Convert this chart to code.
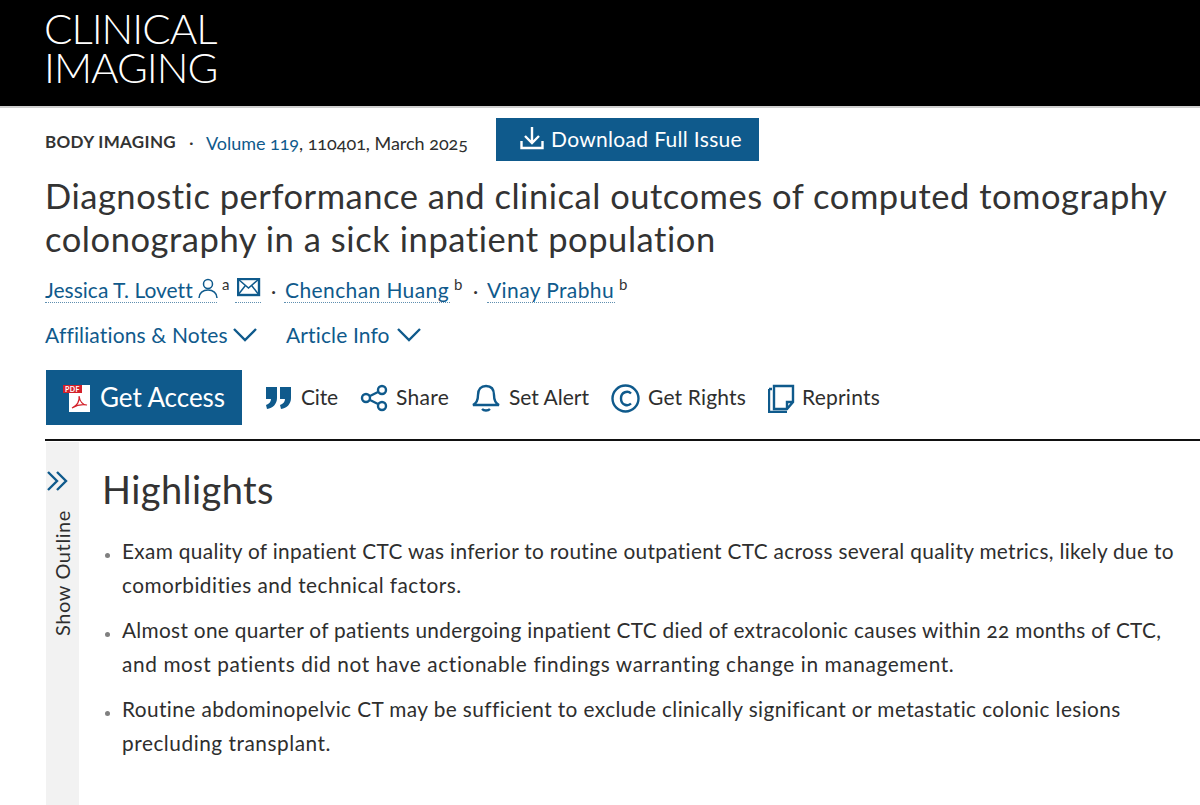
<!DOCTYPE html>
<html>
<head>
<meta charset="utf-8">
<title>Clinical Imaging</title>
<script src="https://cdn.jsdelivr.net/npm/chart.js@4"></script>
<style>
html, body { margin: 0; padding: 0; background: #fff; }
body { position: relative; width: 1200px; height: 805px; overflow: hidden; font-family: Lato, sans-serif; color: #2e2e2e; }
.box { position: absolute; }
.t { position: absolute; white-space: nowrap; line-height: 0; font-feature-settings: "onum"; }
.logo { position: absolute; left: 44px; top: 9px; white-space: pre; font-size: 42px; line-height: 39px; font-weight: 300; color: #fff; letter-spacing: -1px; }
svg { position: absolute; fill: none; stroke: #0f5a8c; stroke-width: 2.4; }
</style>
</head>
<body>
<script>
// page text, the reference has no plotted values at all
const logoLines = ['CLINICAL', 'IMAGING'];
const titleLines = ['Diagnostic performance and clinical outcomes of computed tomography', 'colonography in a sick inpatient population'];
const authors = ['Jessica T. Lovett', 'Chenchan Huang', 'Vinay Prabhu'];
const actions = ['Cite', 'Share', 'Set Alert', 'Get Rights', 'Reprints'];
const highlightLines = [
    'Exam quality of inpatient CTC was inferior to routine outpatient CTC across several quality metrics, likely due to',
    'comorbidities and technical factors.',
    'Almost one quarter of patients undergoing inpatient CTC died of extracolonic causes within 22 months of CTC,',
    'and most patients did not have actionable findings warranting change in management.',
    'Routine abdominopelvic CT may be sufficient to exclude clinically significant or metastatic colonic lesions',
    'precluding transplant.'
];

const BLUE = '#0f5a8c';

function box(x, y, w, h, color) {
    const el = document.createElement('div');
    el.className = 'box';
    el.style.cssText = `left:${x}px;top:${y}px;width:${w}px;height:${h}px;background:${color}`;
    document.body.appendChild(el);
    return el;
}

// x = left edge, y = vertical centre, width = spacing is adjusted to land on this width
function text(str, x, y, size, width, color, weight) {
    const el = document.createElement('span');
    el.className = 't';
    el.textContent = str;
    el.style.cssText = `left:${x}px;top:${y}px;font-size:${size}px;color:${color || '#2e2e2e'};font-weight:${weight || 400}`;
    document.body.appendChild(el);
    if (width) {
        const extra = (width - el.getBoundingClientRect().width) / str.length;
        el.style.letterSpacing = extra.toFixed(3) + 'px';
    }
    return el;
}

function icon(x, y, w, h, inner) {
    document.body.insertAdjacentHTML('beforeend',
        `<svg style="left:${x}px;top:${y}px" width="${w}" height="${h}" viewBox="0 0 ${w} ${h}">${inner}</svg>`);
}

function dotted(x, w) {
    box(x, 302, w, 0, 'none').style.borderTop = '1px dotted #5f8fb0';
}

// header
box(0, 0, 1200, 106, '#000');
box(0, 106, 1200, 2, '#cfcfcf');
const logo = document.createElement('div');
logo.className = 'logo';
logo.textContent = logoLines.join('\n');
document.body.appendChild(logo);

// issue row
text('BODY IMAGING', 45, 142, 17, 131, '#333', 700);
text('·', 189, 142, 18, 0, '#333');
text('Volume 119', 206, 143, 18, 93, BLUE);
text(', 110401, March 2025', 299, 143, 18, 169);
box(496, 118, 263, 43, BLUE);
icon(520, 126, 24, 24, '<path d="M12 1v15M5 10l7 7 7-7M1.500 15v7h21v-7" stroke="#fff"/>');
text('Download Full Issue', 551, 139, 21, 191, '#fff');

// title
text(titleLines[0], 45, 196, 34.5, 1123, '#333');
text(titleLines[1], 45, 239, 34.5, 672, '#333');

// authors
text(authors[0], 45, 290, 21, 147, BLUE);
icon(198, 278, 20, 22, '<circle cx="10" cy="6" r="4.500" stroke-width="1.500"/><path d="M1 20c0-5 4-8 9-8s9 3 9 8" stroke-width="1.500"/>');
text('a', 222, 284, 15, 0, '#333');
icon(237, 278, 24, 19, '<rect x="1" y="1" width="21" height="16"/><path d="M1 1l10.500 9L22 1M1 17l7-9M22 17l-7-9" stroke-width="1.500"/>');
text('·', 271, 290, 20, 0, '#333');
text(authors[1], 285, 290, 21, 164, BLUE);
text('b', 454, 284, 15, 0, '#333');
text('·', 473, 290, 20, 0, '#333');
text(authors[2], 487, 290, 21, 127, BLUE);
text('b', 619, 284, 15, 0, '#333');
dotted(45, 172);
dotted(235, 26);
dotted(284, 166);
dotted(487, 128);

// affiliations row
text('Affiliations & Notes', 45, 335, 21, 182, BLUE);
icon(233, 327, 24, 15, '<path d="M1 2l11 11L23 2"/>');
text('Article Info', 286, 335, 21, 104, BLUE);
icon(397, 327, 24, 15, '<path d="M1 2l11 11L23 2"/>');

// access button and action links
box(46, 370, 196, 55, BLUE);
box(69, 385, 21, 27, '#fff');
box(63, 385, 19, 8, '#d3202a');
text('PDF', 65, 389, 7, 15, '#fff', 700);
icon(70, 394, 19, 16, '<path d="M2 14c5-2 8-7 7-12 1 6 4 9 8 9-5-1-10 0-15 3z" stroke="#d3202a" stroke-width="1.200"/>');
text('Get Access', 100, 397, 26, 125, '#fff');

icon(265, 386, 27, 25, '<path d="M1 1h11v11c0 6-4 10-10 11l-1-4c3-1 5-3 5-6H1zM15 1h11v11c0 6-4 10-10 11l-1-4c3-1 5-3 5-6h-5z" fill="#0f5a8c" stroke="none"/>');
text(actions[0], 301, 397, 21, 37);
icon(360, 384, 28, 28, '<circle cx="22" cy="6" r="4"/><circle cx="6" cy="14" r="4"/><circle cx="22" cy="22" r="4"/><path d="M10 12l8-4M10 16l8 4"/>');
text(actions[1], 396, 397, 21, 53);
icon(471, 384, 30, 28, '<path d="M2 21c4-2 5-5 5-10 0-6 3-9 8-9s8 3 8 9c0 5 1 8 5 10zM11 25c2 2 6 2 8 0"/>');
text(actions[2], 509, 397, 21, 80);
icon(611, 384, 29, 29, '<circle cx="14.500" cy="14.500" r="13"/><path d="M20 9.500c-3-3-10-2-10 5s7 8 10 5"/>');
text(actions[3], 648, 397, 21, 98);
icon(768, 384, 27, 29, '<path d="M6 2h19v16l-6 7H6zM1 5v23h18M19 25v-7h6M1 5h3"/>');
text(actions[4], 802, 397, 21, 78);

box(45, 439, 1155, 2, '#111');

// outline tab
box(46, 442, 33, 363, '#f2f2f2');
icon(46, 470, 24, 22, '<path d="M2 2l9 9-9 9M11 2l9 9-9 9"/>');
const outline = text('Show Outline', 0, 0, 20, 126, '#2e2e2e');
outline.style.left = '62px';
outline.style.top = '636px';
outline.style.transformOrigin = '0 0';
outline.style.transform = 'rotate(-90deg)';

// highlights
text('Highlights', 102, 489, 38, 172, '#333');
const lineY = [551, 585, 630, 664, 709, 743];
const lineW = [1053, 340, 1040, 833, 998, 209];
highlightLines.forEach((line, i) => {
    text(line, 122, lineY[i], 20.8, lineW[i]);
    if (i % 2 === 0) box(105, lineY[i] + 2, 5, 5, '#808080').style.borderRadius = '50%';
});
</script>
</body>
</html>
